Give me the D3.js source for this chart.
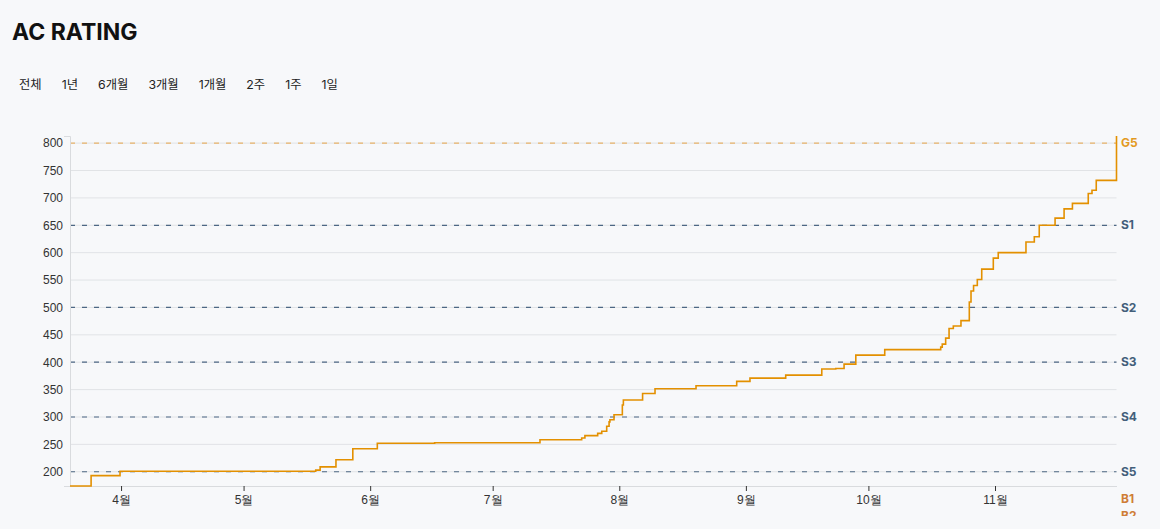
<!DOCTYPE html>
<html><head><meta charset="utf-8">
<script src="https://cdn.jsdelivr.net/npm/d3@7"></script>
<style>
html,body{margin:0;padding:0;background:#f7f8fa;}
svg{display:block;font-family:Inter,"Noto Sans CJK KR",sans-serif;}
</style></head>
<body>
<svg id="chart" width="1160" height="529"></svg>
<script>
// ---- data ----
const title = "AC RATING";
const rangeButtons = ["전체","1년","6개월","3개월","1개월","2주","1주","1일"];
const dates = [
 "2023-03-19T12:00","2023-03-24T16:00","2023-03-31T18:00","2023-05-18T16:00","2023-05-19T18:00",
 "2023-05-23T15:00","2023-05-27T18:00","2023-06-02T18:00","2023-06-16T19:00","2023-07-12T14:00",
 "2023-07-22T19:00","2023-07-23T14:00","2023-07-26T17:00","2023-07-27T17:00","2023-07-28T22:00",
 "2023-07-29T12:00","2023-07-29T17:00","2023-07-30T17:00","2023-08-01T18:00","2023-08-02T00:00",
 "2023-08-06T17:00","2023-08-09T18:00","2023-08-19T19:00","2023-08-29T18:00","2023-09-02T00:00",
 "2023-09-10T18:00","2023-09-19T14:00","2023-09-23T00:00","2023-09-25T01:00","2023-09-27T22:00",
 "2023-10-05T00:00","2023-10-18T17:00","2023-10-19T02:00","2023-10-19T22:00","2023-10-20T18:00",
 "2023-10-21T19:00","2023-10-23T16:00","2023-10-25T17:00","2023-10-26T03:00","2023-10-26T18:00",
 "2023-10-27T16:00","2023-10-28T18:00","2023-10-31T14:00","2023-11-01T19:00","2023-11-08T14:00",
 "2023-11-10T15:00","2023-11-11T20:00","2023-11-15T17:00","2023-11-17T22:00","2023-11-19T23:00",
 "2023-11-23T20:00","2023-11-24T18:00","2023-11-25T19:00","2023-11-30T18:00"
];
const ratings = [
 174,193,201,203,209,
 222,242,252,253,258.5,
 261.5,266,270,274,283,
 291,295,304,322,331,
 343,351.5,357,365,371,
 376.5,387.5,388.5,396.5,413,
 423,427.5,433,444,461.5,
 466,476,510,530,540,
 551,570,590,600,619.5,
 629,650,663,680,690,
 708,714,732,813
];
const xTickDates = ["2023-04-01","2023-05-01","2023-06-01","2023-07-01","2023-08-01","2023-09-01","2023-10-01","2023-11-01"];
const tierNames  = ["B5","B4","B3","B2","B1","S5","S4","S3","S2","S1","G5","G4"];
const tierValues = [30,60,90,120,150,200,300,400,500,650,800,950];
const tierGroups = ["B","B","B","B","B","S","S","S","S","S","G","G"];

// ---- styles ----
const lineColor = "#e39000";
const tierLabelColor = {B:"#cf7d36", S:"#435f7a", G:"#e39a1f"};
const tierLineColor  = {B:"#cf7d36", S:"#4d6784", G:"#e8b36a"};

const svg = d3.select("#chart");
const parse = d3.timeParse("%Y-%m-%dT%H:%M");
const parseDay = d3.timeParse("%Y-%m-%d");
const data = dates.map((d,i)=>({date:parse(d), value:ratings[i]}));

const L=70, R=1116.5, T=136, B=486, clipBottom=516;
const x = d3.scaleTime().domain(d3.extent(data,d=>d.date)).range([L,R]);
const y = d3.scaleLinear().domain(d3.extent(data,d=>d.value)).range([B,T]);

svg.append("defs").append("clipPath").attr("id","chartClip")
  .append("rect").attr("x",0).attr("y",0).attr("width",1160).attr("height",clipBottom);

// title
svg.append("text").attr("x",12).attr("y",40).attr("font-size",23).attr("font-weight",700)
  .attr("fill","#111").text(title);

// buttons
let bx = 19;
rangeButtons.forEach(b=>{
  const t = svg.append("text").attr("x",bx).attr("y",89).attr("font-size",12.3)
    .attr("fill","#222").text(b);
  bx += t.node().getComputedTextLength() + 20.05;
});

const chart = svg.append("g").attr("clip-path","url(#chartClip)");

// grid
const yTicks = y.ticks(10);
chart.append("g").selectAll("line").data(yTicks).join("line")
  .attr("x1",L).attr("x2",R).attr("y1",d=>y(d)).attr("y2",d=>y(d))
  .attr("stroke","#e1e3e6").attr("stroke-width",1);

// tier dashed lines
const [ymin,ymax] = y.domain();
const tiers = tierNames.map((n,i)=>({name:n,value:tierValues[i],group:tierGroups[i]}));
chart.append("g").selectAll("line").data(tiers.filter(t=>t.value>=ymin && t.value<=ymax)).join("line")
  .attr("x1",L).attr("x2",R).attr("y1",d=>y(d.value)).attr("y2",d=>y(d.value))
  .attr("stroke",d=>tierLineColor[d.group]).attr("stroke-width",1.2).attr("stroke-dasharray","5,7");

// tier labels (only those that fall on the visible chart area)
chart.append("g").selectAll("text").data(tiers.filter(t=>t.value<=ymax && y(t.value)<clipBottom+4)).join("text")
  .attr("x",R+4.5).attr("y",d=>y(d.value)).attr("dy","0.35em")
  .attr("font-size",12).attr("font-weight",700)
  .attr("fill",d=>tierLabelColor[d.group]).text(d=>d.name);

// y axis
const yAxis = chart.append("g").attr("transform",`translate(${L},0)`)
  .call(d3.axisLeft(y).tickValues(yTicks).tickSizeInner(0).tickSizeOuter(6).tickPadding(7));
yAxis.select(".domain").attr("stroke","#d9dbde");
yAxis.selectAll("text").attr("font-size",12).attr("fill","#333").attr("font-family",null);

// x axis
const xAxis = chart.append("g").attr("transform",`translate(0,${B})`)
  .call(d3.axisBottom(x).tickValues(xTickDates.map(parseDay))
    .tickFormat(d3.timeFormat("%-m월")).tickSizeInner(5).tickSizeOuter(0).tickPadding(4));
xAxis.select(".domain").attr("stroke","#d9dbde");
xAxis.selectAll(".tick line").attr("stroke","#333");
xAxis.selectAll("text").attr("font-size",12).attr("fill","#333").attr("font-family",null);

// line
chart.append("path").datum(data)
  .attr("fill","none").attr("stroke",lineColor).attr("stroke-width",1.6)
  .attr("d",d3.line().curve(d3.curveStepAfter).x(d=>x(d.date)).y(d=>y(d.value)));
</script>
</body></html>
